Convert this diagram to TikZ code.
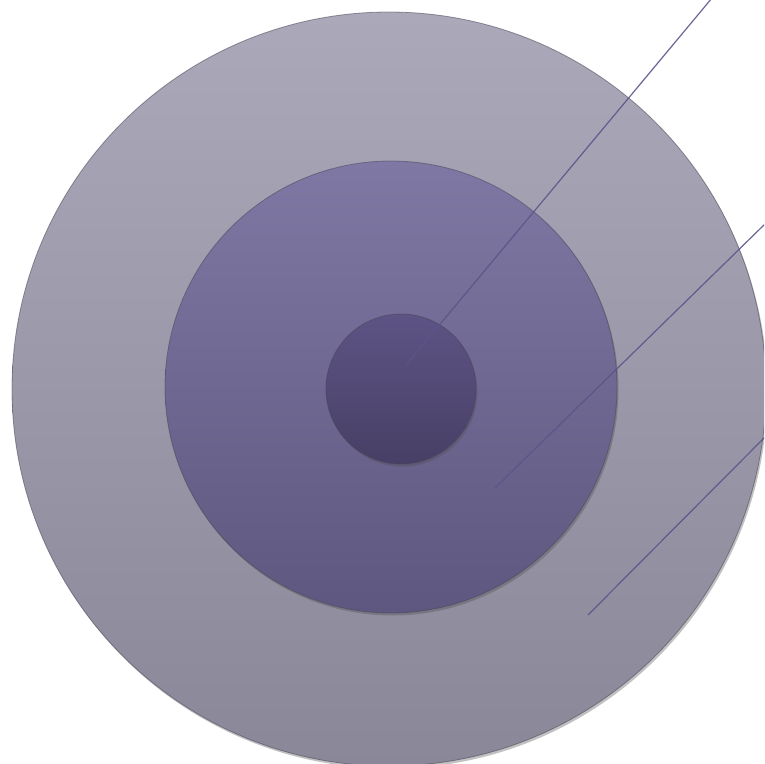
\documentclass[tikz,border=0pt]{standalone}
\usetikzlibrary{shadows}
\definecolor{outerTop}{HTML}{ABA8BA}
\definecolor{outerBot}{HTML}{8A8798}
\definecolor{midTop}{HTML}{7F78A4}
\definecolor{midBot}{HTML}{5E577F}
\definecolor{inTop}{HTML}{5D5485}
\definecolor{inBot}{HTML}{483F66}
\definecolor{lineCol}{HTML}{5A5589}
\definecolor{rimCol}{HTML}{4A4658}
\tikzset{
  disc/.style={circle, inner sep=0pt, draw=rimCol, draw opacity=0.55, line width=0.8pt,
    drop shadow={shadow xshift=1.5pt, shadow yshift=-2.5pt, opacity=0.35, fill=black!70}},
  leader/.style={draw=lineCol, line width=1.2pt, opacity=0.9}
}
\begin{document}
\begin{tikzpicture}[x=1pt,y=-1pt]
\useasboundingbox (0,0) rectangle (764,764);
\clip (0,0) rectangle (764,764);
\node[disc, minimum size=754pt, top color=outerTop, bottom color=outerBot] (outer) at (389,389) {};
\node[disc, minimum size=452pt, top color=midTop, bottom color=midBot] (middle) at (391,387) {};
\node[disc, minimum size=150pt, top color=inTop, bottom color=inBot] (inner) at (401,389) {};
\coordinate (a1) at (406,365);
\coordinate (b1) at (712,-2);
\coordinate (a2) at (495,488);
\coordinate (b2) at (766,223);
\coordinate (a3) at (588,615);
\coordinate (b3) at (766,436);
\draw[leader] (a1) -- (b1);
\draw[leader] (a2) -- (b2);
\draw[leader] (a3) -- (b3);
\end{tikzpicture}
\end{document}
